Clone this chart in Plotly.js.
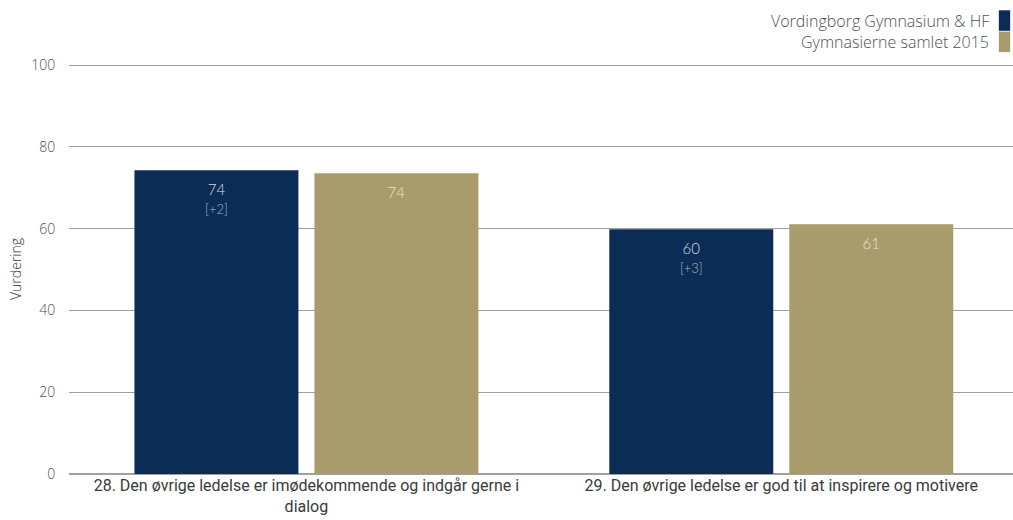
<!DOCTYPE html>
<html>
<head>
<meta charset="utf-8">
<script src="https://cdn.plot.ly/plotly-3.0.1.min.js"></script>
<style>html,body{margin:0;padding:0;background:#fff;}#chart{width:1013px;height:520px;}</style>
</head>
<body>
<div id="chart"></div>
<script>
const categories = [
  "28. Den øvrige ledelse er imødekommende og indgår gerne i<br>dialog",
  "29. Den øvrige ledelse er god til at inspirere og motivere"
];
const seriesNames = ["Vordingborg Gymnasium & HF", "Gymnasierne samlet 2015"];
const schoolValues = [74.3, 59.9];
const schoolDiffs = ["+2", "+3"];
const nationalValues = [73.6, 61.1];
const yTicks = [0, 20, 40, 60, 80, 100];

const navy = "#0b2d55";
const tan = "#a89b6c";
const textGray = "#505050";
const baseFont = "Lato, 'Open Sans', sans-serif";

const pad = "<span style='font-size:2px'>&nbsp;</span><br>";
const schoolText = schoolValues.map((v, i) =>
  pad + Math.round(v) + "<br><span style='font-size:13px;color:#aeb7c5'>[" + schoolDiffs[i] + "]</span>");
const nationalText = nationalValues.map(v => pad + String(Math.round(v)));

const common = {
  type: "bar",
  x: categories,
  textposition: "inside",
  insidetextanchor: "end",
  textangle: 0,
  constraintext: "none",
  hoverinfo: "none",
  showlegend: false
};

const traces = [
  Object.assign({}, common, {
    name: seriesNames[0], y: schoolValues, text: schoolText,
    marker: {color: navy},
    insidetextfont: {family: baseFont, size: 15, weight: 300, color: "#d6dae0"}
  }),
  Object.assign({}, common, {
    name: seriesNames[1], y: nationalValues, text: nationalText,
    marker: {color: tan},
    insidetextfont: {family: baseFont, size: 15, weight: 300, color: "#e8e4d8"}
  })
];

// legend in the reference's style (swatch to the right of right-aligned text)
const legendY = [1.106, 1.054];
const legendColors = [navy, tan];
const annotations = seriesNames.map((n, i) => ({
  xref: "paper", yref: "paper", x: 0.9765, y: legendY[i],
  xanchor: "right", yanchor: "middle", showarrow: false,
  text: n, font: {family: "'Open Sans', Lato, sans-serif", size: 16, weight: 300, color: textGray}
}));
const shapes = seriesNames.map((n, i) => ({
  type: "rect", xref: "paper", yref: "paper",
  x0: 0.985, x1: 0.997, y0: legendY[i] - 0.025, y1: legendY[i] + 0.025,
  fillcolor: legendColors[i], line: {width: 0}
}));

const layout = {
  width: 1013, height: 520,
  margin: {l: 69, r: 0, t: 64, b: 46},
  paper_bgcolor: "#fff", plot_bgcolor: "#fff",
  barmode: "group",
  bargap: 0.242,
  bargroupgap: 0.089,
  showlegend: false,
  font: {family: baseFont, color: textGray},
  xaxis: {
    type: "category",
    range: [-0.5, 1.488],
    showgrid: false, showline: false, zeroline: false,
    ticks: "",
    tickfont: {family: "'Liberation Sans Narrow', 'Arial Narrow', Roboto, sans-serif", size: 16, color: "#3a3a3a"},
    automargin: false
  },
  yaxis: {
    range: [0, 100.3],
    tickvals: yTicks,
    ticktext: yTicks.map(String),
    showgrid: true, gridcolor: "#a0a0a0", gridwidth: 1,
    zeroline: true, zerolinecolor: "#a0a0a0", zerolinewidth: 2,
    showline: false,
    ticks: "outside", ticklen: 10, tickcolor: "rgba(0,0,0,0)",
    tickfont: {family: "'Open Sans', Lato, sans-serif", size: 14, weight: 300, color: textGray},
    title: {text: "Vurdering", font: {family: "'Open Sans', Lato, sans-serif", size: 14, weight: 300, color: "#333"}, standoff: 6},
    automargin: false
  },
  annotations: annotations,
  shapes: shapes
};

Plotly.newPlot("chart", traces, layout, {staticPlot: true, displayModeBar: false});
</script>
</body>
</html>
